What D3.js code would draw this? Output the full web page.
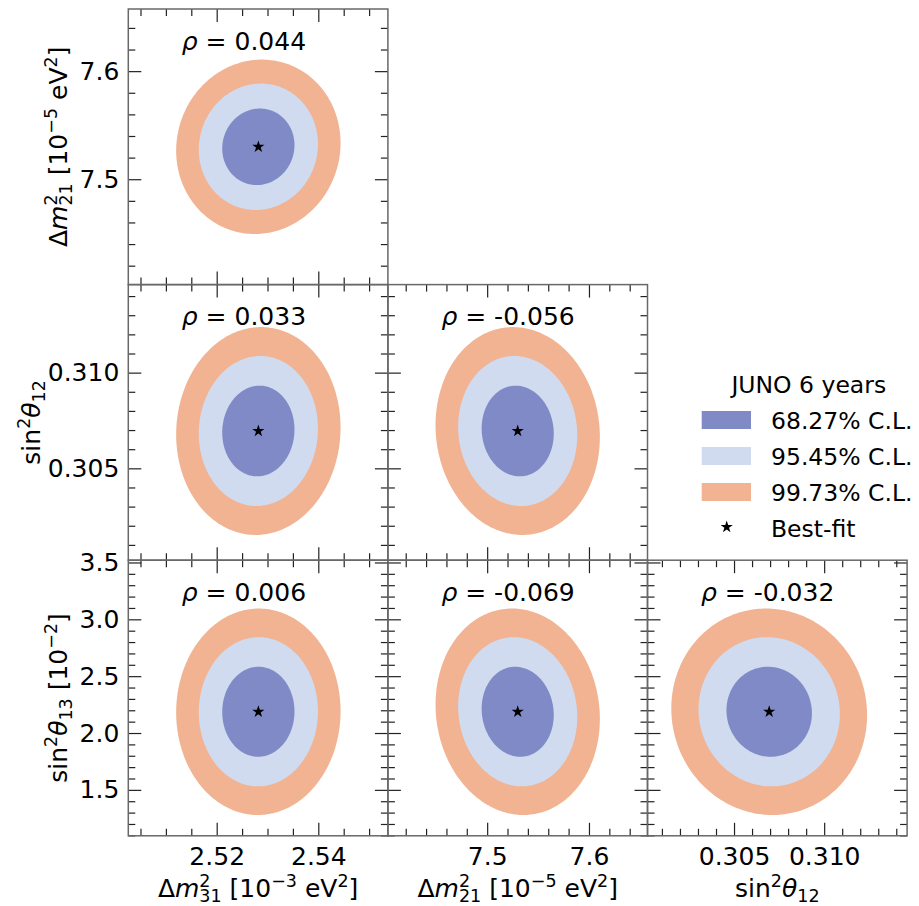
<!DOCTYPE html>
<html><head><meta charset="utf-8">
<script src="https://cdn.jsdelivr.net/npm/d3@7"></script>
<style>
body{margin:0;background:#fff}
svg{display:block}
text{font-family:'DejaVu Sans',sans-serif;fill:#000}
</style>
</head><body>
<svg id="chart" width="919" height="906"></svg>
<script>
// ---------------- data ----------------
// parameter order: Δm²31 [1e-3 eV²], Δm²21 [1e-5 eV²], sin²θ12, sin²θ13 [1e-2]
const paramKeys    = ['dm31', 'dm21', 's12', 's13'];
const bestFit      = [2.5282, 7.530, 0.30695, 2.187];
const halfWidth68  = [0.00711, 0.0354, 0.00237, 0.396];
const halfWidth95  = [0.01173, 0.0585, 0.00392, 0.656];
const halfWidth997 = [0.01618, 0.0807, 0.00543, 0.908];
const axisLimits   = [[2.5026, 2.5537], [7.4025, 7.6575], [0.3002, 0.3146], [1.096, 3.52]];
const majorTicks   = [[2.52, 2.54], [7.5, 7.6], [0.305, 0.310], [1.5, 2.0, 2.5, 3.0, 3.5]];
const majorTickLabels = [['2.52', '2.54'], ['7.5', '7.6'], ['0.305', '0.310'], ['1.5', '2.0', '2.5', '3.0', '3.5']];
const minorTickStep = [0.005, 0.02, 0.001, 0.1];
const rowParams = [1, 2, 3];   // y parameter of each row
const colParams = [0, 1, 2];   // x parameter of each column
const panelRow  = [0, 1, 1, 2, 2, 2];
const panelCol  = [0, 0, 1, 0, 1, 2];
const rhoValues = [0.044, 0.033, -0.056, 0.006, -0.069, -0.032];
const rhoLabels = ['0.044', '0.033', '-0.056', '0.006', '-0.069', '-0.032'];
const legendTitle = 'JUNO 6 years';
const clLabels = ['68.27% C.L.', '95.45% C.L.', '99.73% C.L.'];
const bestFitLabel = 'Best-fit';

// ---------------- styles / layout ----------------
const clColors = ['#7f8ac6', '#d0dbef', '#f1b391'];
const FS = 25, LEG_FS = 23.5;
const L = 128.3, T = 9, PW = 259.6, PH = 275.6;
const spineColor = '#686868', tickColor = '#222';

const svg = d3.select('#chart');

// rich text (mathtext-like) helper
function rich(sel, parts, fs) {
  let cur = 0;
  parts.forEach(p => {
    const target = p.s === 'sup' ? -0.40 * fs : p.s === 'sub' ? 0.20 * fs : 0;
    const ts = sel.append('tspan').text(p.t)
      .attr('dy', (target - cur).toFixed(2))
      .attr('font-size', p.s ? 0.7 * fs : fs)
      .attr('font-style', p.i ? 'italic' : 'normal');
    if (p.back) ts.attr('dx', (-p.back * fs).toFixed(2));
    cur = target;
  });
  return sel;
}

const labelParts = {
  dm31: [{t: 'Δ'}, {t: 'm', i: 1}, {t: '2', s: 'sup'}, {t: '31', s: 'sub', back: 0.7 * 0.636},
         {t: ' [10'}, {t: '−3', s: 'sup'}, {t: ' eV'}, {t: '2', s: 'sup'}, {t: ']'}],
  dm21: [{t: 'Δ'}, {t: 'm', i: 1}, {t: '2', s: 'sup'}, {t: '21', s: 'sub', back: 0.7 * 0.636},
         {t: ' [10'}, {t: '−5', s: 'sup'}, {t: ' eV'}, {t: '2', s: 'sup'}, {t: ']'}],
  s12:  [{t: 'sin'}, {t: '2', s: 'sup'}, {t: 'θ', i: 1}, {t: '12', s: 'sub'}],
  s13:  [{t: 'sin'}, {t: '2', s: 'sup'}, {t: 'θ', i: 1}, {t: '13', s: 'sub'}, {t: ' [10'}, {t: '−2', s: 'sup'}, {t: ']'}]
};

function minorValues(p) {
  const [a, b] = axisLimits[p];
  const st = minorTickStep[p];
  const vals = [];
  for (let k = Math.ceil(a / st - 1e-9); k * st <= b + 1e-12; k++) {
    const v = +(k * st).toFixed(6);
    if (!majorTicks[p].some(m => Math.abs(m - v) < st / 10)) vals.push(v);
  }
  return vals;
}

function drawAxis(g, scale, orient, p, withLabels) {
  const fn = {bottom: d3.axisBottom, top: d3.axisTop, left: d3.axisLeft, right: d3.axisRight}[orient];
  const gm = g.append('g').call(fn(scale).tickValues(minorValues(p)).tickSize(-7).tickFormat(''));
  const pad = (orient === 'bottom') ? 11 : 9;
  const gM = g.append('g').call(fn(scale).tickValues(majorTicks[p]).tickSize(-13).tickPadding(pad)
      .tickFormat(withLabels ? (d, i) => majorTickLabels[p][i] : ''));
  [gm, gM].forEach(a => {
    a.select('.domain').remove();
    a.attr('font-size', FS).attr('font-family', "'DejaVu Sans', sans-serif").attr('color', tickColor);
    a.selectAll('line').attr('stroke-width', 1.2);
  });
  return [gm, gM];
}

const nT = 240;
const tAngles = d3.range(nT).map(i => 2 * Math.PI * i / nT);

for (let k = 0; k < panelRow.length; k++) {
  const r = panelRow[k], c = panelCol[k];
  const px = colParams[c], py = rowParams[r];
  const x0 = L + c * PW, y0 = T + r * PH;
  const g = svg.append('g').attr('transform', `translate(${x0},${y0})`);
  const xs = d3.scaleLinear().domain(axisLimits[px]).range([0, PW]);
  const ys = d3.scaleLinear().domain(axisLimits[py]).range([PH, 0]);
  const rho = rhoValues[k];
  const s = Math.sqrt(1 - rho * rho);
  const line = d3.line().x(d => xs(d[0])).y(d => ys(d[1])).curve(d3.curveLinearClosed);
  const clip = 'clip' + k;
  g.append('clipPath').attr('id', clip).append('rect').attr('width', PW).attr('height', PH);
  const levels = [halfWidth997, halfWidth95, halfWidth68];
  const lvColors = [clColors[2], clColors[1], clColors[0]];
  levels.forEach((hw, li) => {
    const pts = tAngles.map(t => [
      bestFit[px] + hw[px] * Math.cos(t),
      bestFit[py] + hw[py] * (rho * Math.cos(t) + s * Math.sin(t))
    ]);
    g.append('path').attr('d', line(pts)).attr('fill', lvColors[li]).attr('clip-path', `url(#${clip})`);
  });
  g.append('path').attr('d', d3.symbol(d3.symbolStar).size(46)())
    .attr('transform', `translate(${xs(bestFit[px])},${ys(bestFit[py])})`).attr('fill', '#000');

  // axes with inward ticks on all sides
  drawAxis(g.append('g').attr('transform', `translate(0,${PH})`), xs, 'bottom', px, r === 2);
  drawAxis(g.append('g'), xs, 'top', px, false);
  drawAxis(g.append('g'), ys, 'left', py, c === 0);
  drawAxis(g.append('g').attr('transform', `translate(${PW},0)`), ys, 'right', py, false);
  g.append('rect').attr('width', PW).attr('height', PH).attr('fill', 'none')
    .attr('stroke', spineColor).attr('stroke-width', 1.5);

  // correlation label
  const tx = g.append('text').attr('x', 53.5).attr('y', 40.5).attr('font-size', FS);
  rich(tx, [{t: 'ρ', i: 1}, {t: ' = '}, {t: rhoLabels[k]}], FS);
}

// x labels
colParams.forEach((p, c) => {
  const t = svg.append('text').attr('x', L + c * PW + PW / 2).attr('y', 897)
    .attr('text-anchor', 'middle').attr('font-size', FS);
  rich(t, labelParts[paramKeys[p]], FS);
});
// y labels
const yLabelX = [67, 40, 67];
rowParams.forEach((p, r) => {
  const t = svg.append('text').attr('transform', `translate(${yLabelX[r]},${T + r * PH + PH / 2}) rotate(-90)`)
    .attr('text-anchor', 'middle').attr('font-size', FS);
  rich(t, labelParts[paramKeys[p]], FS);
});

// legend
const lg = svg.append('g');
lg.append('text').attr('x', 808.8).attr('y', 393.3).attr('text-anchor', 'middle')
  .attr('font-size', LEG_FS).text(legendTitle);
clLabels.forEach((lab, i) => {
  const cy = 420 + i * 36;
  lg.append('rect').attr('x', 701.7).attr('y', cy - 9).attr('width', 49.3).attr('height', 18).attr('fill', clColors[i]);
  lg.append('text').attr('x', 771).attr('y', cy + 8.8).attr('font-size', LEG_FS).text(lab);
});
lg.append('path').attr('d', d3.symbol(d3.symbolStar).size(46)())
  .attr('transform', `translate(726.7,${420 + 3 * 36 - 1})`).attr('fill', '#000');
lg.append('text').attr('x', 771).attr('y', 420 + 3 * 36 + 8.8).attr('font-size', LEG_FS).text(bestFitLabel);
</script>
</body></html>
